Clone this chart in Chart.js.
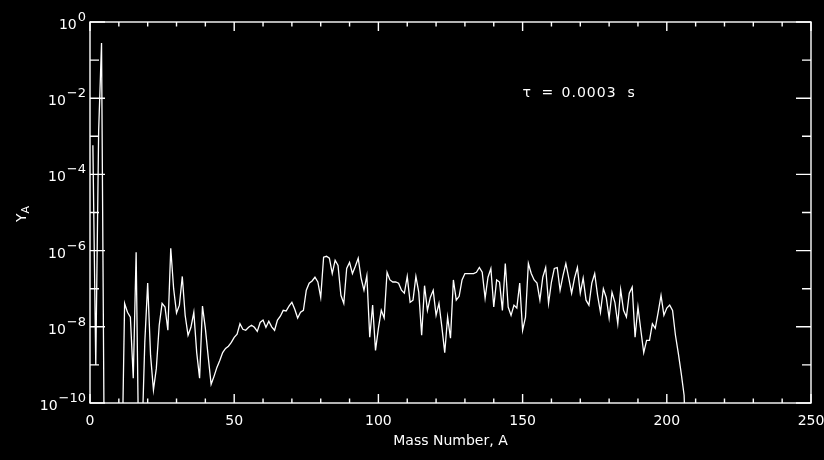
<!DOCTYPE html>
<html>
<head>
<meta charset="utf-8">
<script src="https://cdn.jsdelivr.net/npm/chart.js@4"></script>
<style>
  html, body { margin: 0; padding: 0; background: #000; }
  canvas { display: block; }
</style>
</head>
<body>
<canvas id="yields" width="824" height="460"></canvas>
<script>
// abundance Y_A for A = 1, 2, 3, ... (values under 1e-10 fall below the frame)
const yields = [
  5.8e-4, 1.0e-9, 1.4e-3, 0.28, 1e-12, 1e-12, 1e-12, 1e-12, 1e-12, 1e-12,
  1e-12, 4.1e-8, 2.4e-8, 1.8e-8, 4.5e-10, 9.0e-7, 1e-12, 1e-11, 3.9e-9, 1.4e-7,
  1.8e-9, 2.2e-10, 8.1e-10, 1.1e-8, 4.1e-8, 3.3e-8, 8.1e-9, 1.15e-6, 1.0e-7, 2.3e-8,
  3.7e-8, 2.1e-7, 2.0e-8, 6.0e-9, 9.7e-9, 2.4e-8, 2.1e-9, 4.5e-10, 3.5e-8, 9.1e-9,
  1.6e-9, 3.1e-10, 5.0e-10, 8.6e-10, 1.3e-9, 2.1e-9, 2.7e-9, 3.1e-9, 3.9e-9, 5.3e-9,
  6.4e-9, 1.2e-8, 8.6e-9, 8.1e-9, 9.7e-9, 1.1e-8, 9.7e-9, 7.6e-9, 1.3e-8, 1.5e-8,
  9.7e-9, 1.4e-8, 1.0e-8, 8.1e-9, 1.5e-8, 1.9e-8, 2.7e-8, 2.6e-8, 3.5e-8, 4.4e-8,
  2.9e-8, 1.7e-8, 2.4e-8, 2.7e-8, 9.1e-8, 1.4e-7, 1.6e-7, 2.0e-7, 1.5e-7, 5.9e-8,
  6.7e-7, 7.1e-7, 6.3e-7, 2.5e-7, 5.6e-7, 4.1e-7, 6.7e-8, 4.1e-8, 3.4e-7, 4.9e-7,
  2.5e-7, 3.9e-7, 6.3e-7, 1.9e-7, 9.1e-8, 2.2e-7, 5.3e-9, 3.7e-8, 2.4e-9, 9.1e-9,
  2.7e-8, 1.7e-8, 2.7e-7, 1.7e-7, 1.5e-7, 1.5e-7, 1.4e-7, 9.1e-8, 7.6e-8, 2.1e-7,
  4.4e-8, 5.0e-8, 2.1e-7, 8.0e-8, 6.0e-9, 1.2e-7, 2.7e-8, 5.9e-8, 9.1e-8, 2.0e-8,
  4.1e-8, 1.0e-8, 2.1e-9, 1.8e-8, 5.0e-9, 1.7e-7, 5.0e-8, 6.3e-8, 1.7e-7, 2.5e-7,
  2.5e-7, 2.5e-7, 2.5e-7, 2.7e-7, 3.6e-7, 2.7e-7, 5.6e-8, 2.0e-7, 3.4e-7, 3.3e-8,
  1.7e-7, 1.5e-7, 2.7e-8, 4.6e-7, 3.3e-8, 2.0e-8, 3.7e-8, 3.1e-8, 1.4e-7, 8.1e-9,
  1.8e-8, 4.6e-7, 2.5e-7, 1.7e-7, 1.4e-7, 5.0e-8, 2.0e-7, 3.6e-7, 4.1e-8, 1.5e-7,
  3.4e-7, 3.6e-7, 9.1e-8, 2.2e-7, 4.6e-7, 1.9e-7, 7.6e-8, 1.9e-7, 3.6e-7, 7.6e-8,
  1.9e-7, 5.0e-8, 3.7e-8, 1.4e-7, 2.5e-7, 6.7e-8, 2.4e-8, 1.0e-7, 5.9e-8, 1.7e-8,
  8.0e-8, 4.4e-8, 1.2e-8, 9.5e-8, 2.7e-8, 1.8e-8, 7.6e-8, 1.1e-7, 5.3e-9, 3.3e-8,
  8.1e-9, 2.1e-9, 4.4e-9, 4.4e-9, 1.2e-8, 9.1e-9, 2.4e-8, 6.7e-8, 2.0e-8, 3.1e-8,
  3.7e-8, 2.7e-8, 6.0e-9, 2.0e-9, 6.0e-10, 1.6e-10, 1e-12
];
const massNumber = yields.map((_, i) => i + 1);

const xTickLabels = [0, 50, 100, 150, 200, 250];
const yTickPowers = [0, -2, -4, -6, -8, -10];
const xTitle = 'Mass Number, A';
const tauText = ['τ', '=', '0.0003', 's'];
const tauAt = { x: 150, y: 1.3e-2 };

const FONT = '"DejaVu Sans", sans-serif';

// IDL-style frame: box on all four sides, ticks pointing inward
const idlFrame = {
  id: 'idlFrame',
  afterDraw(chart) {
    const { ctx, chartArea: a, scales: { x, y } } = chart;
    ctx.save();
    ctx.strokeStyle = '#fff';
    ctx.fillStyle = '#fff';
    ctx.lineWidth = 1.4;
    ctx.strokeRect(a.left, a.top, a.right - a.left, a.bottom - a.top);

    ctx.beginPath();
    for (let v = x.min; v <= x.max; v += 10) {
      const px = x.getPixelForValue(v);
      const len = v % 50 === 0 ? 9 : 4.5;
      ctx.moveTo(px, a.bottom); ctx.lineTo(px, a.bottom - len);
      ctx.moveTo(px, a.top); ctx.lineTo(px, a.top + len);
    }
    for (let p = 0; p >= -10; p--) {
      const py = y.getPixelForValue(Math.pow(10, p));
      const len = p % 2 === 0 ? 15 : 9;
      ctx.moveTo(a.left, py); ctx.lineTo(a.left + len, py);
      ctx.moveTo(a.right, py); ctx.lineTo(a.right - len, py);
    }
    ctx.stroke();

    // x tick labels and title
    ctx.font = '14px ' + FONT;
    ctx.textAlign = 'center';
    ctx.textBaseline = 'middle';
    xTickLabels.forEach(v => {
      ctx.fillText(String(v), x.getPixelForValue(v), a.bottom + 18);
    });
    ctx.fillText(xTitle, (a.left + a.right) / 2, a.bottom + 38);

    // y tick labels: 10 with a raised exponent
    ctx.textAlign = 'right';
    ctx.textBaseline = 'alphabetic';
    yTickPowers.forEach(p => {
      const py = y.getPixelForValue(Math.pow(10, p));
      const exp = p === 0 ? '0' : '\u2212' + String(-p);
      ctx.font = '13px ' + FONT;
      const right = a.left - 4;
      ctx.fillText(exp, right, py - 1);
      const w = ctx.measureText(exp).width;
      ctx.font = '14px ' + FONT;
      ctx.fillText('10', right - w - 1, py + 7);
    });

    // y title, Y with subscript A, reading upward
    ctx.save();
    ctx.translate(26, 222);
    ctx.rotate(-Math.PI / 2);
    ctx.textAlign = 'left';
    ctx.font = '14px ' + FONT;
    ctx.fillText('Y', 0, 0);
    const yw = ctx.measureText('Y').width;
    ctx.font = '11px ' + FONT;
    ctx.fillText('A', yw, 3);
    ctx.restore();

    // timescale note
    const tx = x.getPixelForValue(tauAt.x);
    const ty = y.getPixelForValue(tauAt.y);
    ctx.font = '14px ' + FONT;
    ctx.textAlign = 'left';
    ctx.textBaseline = 'middle';
    ctx.fillText(tauText[0], tx, ty);
    ctx.fillText(tauText[1], tx + 19, ty);
    ctx.letterSpacing = '1px';
    ctx.fillText(tauText[2], tx + 39, ty);
    ctx.letterSpacing = '0px';
    ctx.fillText(tauText[3], tx + 105, ty);
    ctx.restore();
  }
};

new Chart(document.getElementById('yields'), {
  type: 'line',
  data: {
    datasets: [{
      data: massNumber.map((a, i) => ({ x: a, y: yields[i] })),
      borderColor: '#fff',
      borderWidth: 1.3,
      pointRadius: 0,
      tension: 0,
      fill: false
    }]
  },
  options: {
    responsive: false,
    animation: false,
    devicePixelRatio: 1,
    layout: { padding: { left: 90, top: 22, right: 13, bottom: 57 } },
    plugins: { legend: { display: false }, tooltip: { enabled: false } },
    scales: {
      x: { type: 'linear', min: 0, max: 250, display: false },
      y: { type: 'logarithmic', min: 1e-10, max: 1, display: false }
    }
  },
  plugins: [idlFrame]
});
</script>
</body>
</html>
